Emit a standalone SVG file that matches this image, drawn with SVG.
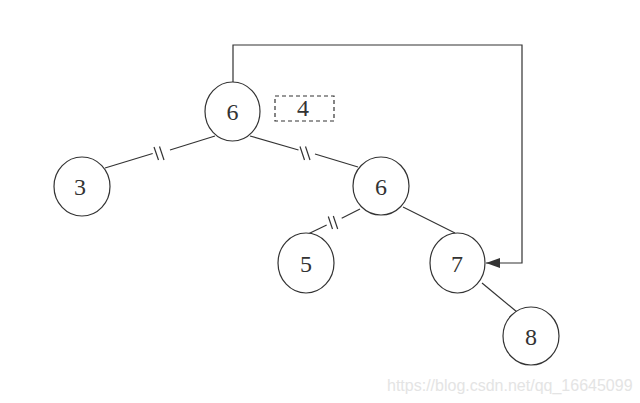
<svg xmlns="http://www.w3.org/2000/svg" width="640" height="403" viewBox="0 0 640 403">
<defs>
<style>
.n ellipse{fill:#fff;stroke:#333;stroke-width:1.2}
.n text,.lbl{font-family:"Liberation Serif","Times New Roman",serif;font-size:24px;fill:#333;text-anchor:middle}
#edges line,#edges polyline{stroke:#333;stroke-width:1.2;fill:none}
</style>
<marker id="ah" markerWidth="14" markerHeight="10" refX="14" refY="5" orient="auto" markerUnits="userSpaceOnUse">
<path d="M0,0 L14,5 L0,10 Z" fill="#333"/>
</marker>
</defs>
<rect width="640" height="403" fill="#fff"/>
<g id="edges">
<line x1="105" y1="168" x2="152.7" y2="153.5"/>
<line x1="170" y1="150" x2="215" y2="136"/>
<line x1="154" y1="147" x2="158.5" y2="160"/>
<line x1="159.5" y1="146.5" x2="164" y2="160"/>
<line x1="250" y1="136" x2="298.5" y2="150"/>
<line x1="315" y1="154" x2="358" y2="167"/>
<line x1="300" y1="146.5" x2="304.5" y2="160"/>
<line x1="305.5" y1="146.5" x2="310" y2="160"/>
<line x1="308" y1="234" x2="326.7" y2="225"/>
<line x1="341.7" y1="218.3" x2="360" y2="209"/>
<line x1="328.3" y1="216.5" x2="332.5" y2="229"/>
<line x1="333.3" y1="216" x2="337.7" y2="229"/>
<line x1="403" y1="207" x2="455" y2="233"/>
<line x1="482" y1="283" x2="517" y2="312"/>
<polyline points="233,82 233,45 522,45 522,263 486,263" marker-end="url(#ah)"/>
</g>
<g id="root" class="n"><ellipse cx="232.5" cy="111.5" rx="27.5" ry="29.5"/><text x="232.5" y="120">6</text></g>
<g id="tag4"><rect x="275" y="96" width="59" height="25" fill="none" stroke="#333" stroke-width="1.2" stroke-dasharray="4,3"/><text class="lbl" x="303" y="116">4</text></g>
<g id="n3" class="n"><ellipse cx="82" cy="186.5" rx="28" ry="29.5"/><text x="80" y="195">3</text></g>
<g id="n6b" class="n"><ellipse cx="381" cy="186" rx="28" ry="29"/><text x="381" y="194.5">6</text></g>
<g id="n5" class="n"><ellipse cx="306" cy="263" rx="28" ry="30"/><text x="306" y="271.5">5</text></g>
<g id="n7" class="n"><ellipse cx="457.5" cy="263" rx="27.5" ry="30"/><text x="457" y="271.5">7</text></g>
<g id="n8" class="n"><ellipse cx="531" cy="336" rx="28" ry="29"/><text x="531" y="345">8</text></g>
<text x="387" y="391" font-family="Liberation Sans, Arial, sans-serif" font-size="16" fill="#e4e4e4">https://blog.csdn.net/qq_16645099</text>
</svg>
